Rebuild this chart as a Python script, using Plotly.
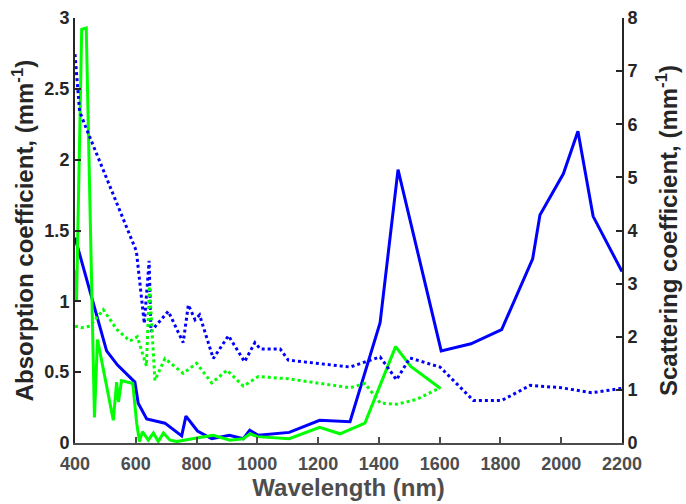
import plotly.graph_objects as go

# Absorption (left axis), solid lines
blue_abs_x = [400, 504, 540, 597, 608, 636, 696, 751, 765, 803, 850, 908, 954, 975, 1003, 1105, 1205, 1305, 1404, 1463, 1605, 1703, 1804, 1906, 1930, 2007, 2055, 2105, 2200]
blue_abs_y = [1.45, 0.65, 0.55, 0.43, 0.28, 0.17, 0.14, 0.05, 0.19, 0.085, 0.03, 0.055, 0.03, 0.09, 0.055, 0.075, 0.16, 0.15, 0.85, 1.93, 0.65, 0.70, 0.80, 1.30, 1.61, 1.90, 2.20, 1.60, 1.21]

green_abs_x = [400, 405, 422, 437, 464, 474, 526, 537, 543, 553, 590, 603, 612, 622, 641, 658, 674, 691, 713, 735, 800, 855, 910, 954, 976, 1000, 1105, 1205, 1272, 1354, 1455, 1505, 1603]
green_abs_y = [1.22, 1.0, 2.92, 2.93, 0.18, 0.73, 0.16, 0.43, 0.29, 0.44, 0.42, 0.14, 0.01, 0.08, 0.02, 0.07, 0.01, 0.07, 0.02, 0.01, 0.035, 0.055, 0.02, 0.03, 0.065, 0.045, 0.03, 0.11, 0.065, 0.14, 0.68, 0.54, 0.385]

# Scattering (right axis), dotted lines
blue_sca_x = [400, 405, 415, 435, 602, 628, 644, 650, 707, 756, 773, 795, 810, 855, 905, 958, 992, 1010, 1075, 1102, 1305, 1404, 1458, 1502, 1601, 1711, 1804, 1898, 2000, 2100, 2200]
blue_sca_y = [7.32, 6.9, 6.25, 5.95, 3.61, 2.25, 3.43, 2.1, 2.48, 1.89, 2.60, 2.32, 2.41, 1.59, 2.02, 1.53, 1.89, 1.77, 1.77, 1.56, 1.43, 1.62, 1.19, 1.60, 1.43, 0.80, 0.80, 1.085, 1.04, 0.945, 1.03]

green_sca_x = [400, 422, 449, 493, 537, 581, 605, 635, 645, 663, 696, 756, 800, 850, 900, 954, 1003, 1100, 1305, 1354, 1405, 1460, 1524, 1601]
green_sca_y = [2.2, 2.17, 2.2, 2.51, 2.14, 1.92, 2.0, 1.45, 2.95, 1.18, 1.59, 1.31, 1.50, 1.13, 1.37, 1.07, 1.25, 1.21, 1.04, 1.12, 0.75, 0.73, 0.82, 1.04]

x_ticks = [400, 600, 800, 1000, 1200, 1400, 1600, 1800, 2000, 2200]
left_ticks = [0, 0.5, 1, 1.5, 2, 2.5, 3]
left_tick_text = ["0", "0.5", "1", "1.5", "2", "2.5", "3"]
right_ticks = [0, 1, 2, 3, 4, 5, 6, 7, 8]

BLUE = "#0000FF"
GREEN = "#00FF00"
FONT = "Liberation Sans, Arial, sans-serif"
XCOL = "#4d4d4d"
YCOL = "#262626"
TICK_SIZE = 18
TITLE_SIZE = 24

fig = go.Figure()
fig.add_trace(go.Scatter(x=blue_abs_x, y=blue_abs_y, mode="lines",
                         line=dict(color=BLUE, width=3), yaxis="y"))
fig.add_trace(go.Scatter(x=green_abs_x, y=green_abs_y, mode="lines",
                         line=dict(color=GREEN, width=3), yaxis="y"))
fig.add_trace(go.Scatter(x=blue_sca_x, y=blue_sca_y, mode="lines",
                         line=dict(color=BLUE, width=3, dash="dot"), yaxis="y2"))
fig.add_trace(go.Scatter(x=green_sca_x, y=green_sca_y, mode="lines",
                         line=dict(color=GREEN, width=3, dash="dot"), yaxis="y2"))

fig.update_layout(
    width=686, height=504,
    margin=dict(l=75, r=64, t=8, b=61),
    paper_bgcolor="white", plot_bgcolor="white",
    showlegend=False,
    font=dict(family=FONT, size=TICK_SIZE, color=YCOL, weight="bold"),
    xaxis=dict(
        range=[400, 2200], tickvals=x_ticks,
        showline=True, linecolor=XCOL, linewidth=2,
        ticks="inside", ticklen=6, tickwidth=2, tickcolor=XCOL,
        tickfont=dict(family=FONT, size=TICK_SIZE, color=XCOL, weight="bold"),
        ticklabeloverflow="allow", ticklabelstandoff=3,
        showgrid=False, zeroline=False,
        title=dict(text="Wavelength (nm)", standoff=2,
                   font=dict(family=FONT, size=TITLE_SIZE, color=XCOL, weight="bold")),
    ),
    yaxis=dict(
        range=[0, 3], tickvals=left_ticks, ticktext=left_tick_text,
        showline=True, linecolor=YCOL, linewidth=2,
        ticks="inside", ticklen=6, tickwidth=2, tickcolor=YCOL,
        tickfont=dict(family=FONT, size=TICK_SIZE, color=YCOL, weight="bold"),
        ticklabeloverflow="allow",
        showgrid=False, zeroline=False,
        title=dict(text="Absorption coefficient, (mm<sup>-1</sup>)", standoff=4,
                   font=dict(family=FONT, size=TITLE_SIZE, color=YCOL, weight="bold")),
    ),
    yaxis2=dict(
        range=[0, 8], tickvals=right_ticks,
        overlaying="y", side="right",
        showline=True, linecolor=YCOL, linewidth=2,
        ticks="inside", ticklen=6, tickwidth=2, tickcolor=YCOL,
        tickfont=dict(family=FONT, size=TICK_SIZE, color=YCOL, weight="bold"),
        ticklabeloverflow="allow",
        showgrid=False, zeroline=False,
        title=dict(text="Scattering coefficient, (mm<sup>-1</sup>)", standoff=24,
                   font=dict(family=FONT, size=TITLE_SIZE, color=YCOL, weight="bold")),
    ),
)

fig.write_html("out.html", config={"displayModeBar": False},
               post_script="document.body.style.margin='0px';")
